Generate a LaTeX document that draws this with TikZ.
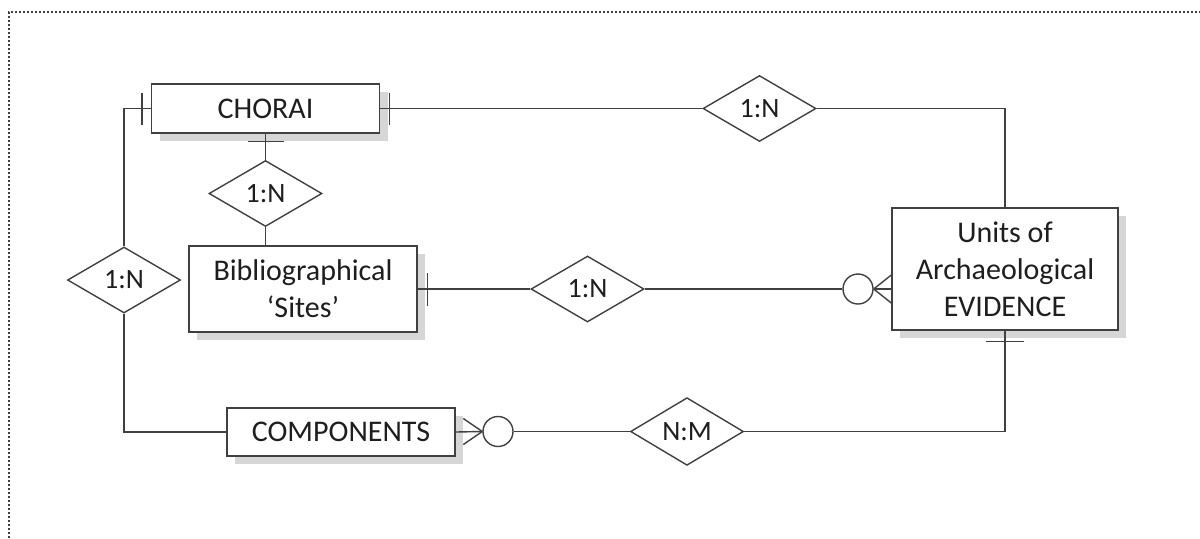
\documentclass[tikz,border=0pt]{standalone}
\usepackage{fontspec}
\setmainfont{Carlito}
\usetikzlibrary{shapes.geometric,shadows}
\definecolor{linegray}{HTML}{404040}
\definecolor{textgray}{HTML}{1E1E1E}
\definecolor{shadowgray}{HTML}{D6D6D6}
\begin{document}
\begin{tikzpicture}[x=0.5pt,y=-0.5pt,
  conn/.style={draw=linegray,line width=0.7pt},
  entity/.style={rectangle,draw=linegray,line width=0.7pt,fill=white,
    inner sep=0pt,align=center,text=textgray,
    font=\fontsize{15pt}{18.5pt}\selectfont,
    drop shadow={shadow xshift=4pt,shadow yshift=-4pt,fill=shadowgray,opacity=1}},
  rel/.style={diamond,draw=linegray,line width=0.7pt,fill=white,inner sep=0pt,
    minimum width=56.5pt,minimum height=33pt,text=textgray,
    font=\fontsize{14pt}{17pt}\selectfont},
  opt/.style={circle,draw=linegray,line width=0.7pt,fill=white,inner sep=0pt,
    minimum size=15pt},
  frame/.style={draw=black!75,line width=0.9pt,dash pattern=on 1pt off 1pt}]
\useasboundingbox (0,0) rectangle (1200,538);
\draw[frame] (9,538) -- (9,12) -- (1200,12);

% entities
\node[entity,minimum width=114pt,minimum height=24.5pt] (chorai) at (265.5,108.5) {CHORAI};
\node[entity,minimum width=114pt,minimum height=43pt] (bib) at (303,289) {Bibliographical\\‘Sites’};
\node[entity,minimum width=114pt,minimum height=24pt] (comp) at (341,432) {COMPONENTS};
\node[entity,minimum width=113pt,minimum height=61pt] (units) at (1005,269) {Units of\\Archaeological\\EVIDENCE};

% relationships
\node[rel] (rtop) at (759.5,108.5) {1:N};
\node[rel] (rmid) at (265.5,193.5) {1:N};
\node[rel] (rleft) at (124,280) {1:N};
\node[rel] (rbib) at (587.5,289) {1:N};
\node[rel] (rnm) at (687,431.5) {N:M};

% optional-many markers
\node[opt] (ocomp) at (498,431.5) {};
\node[opt] (ounits) at (858,289) {};

% CHORAI -- COMPONENTS
\draw[conn] (chorai.west) -| (rleft.north);
\draw[conn] (rleft.south) |- (comp.west);
\draw[conn] ([xshift=-4.5pt,yshift=8pt]chorai.west) -- ([xshift=-4.5pt,yshift=-8pt]chorai.west);

% CHORAI -- Units
\draw[conn] (chorai.east) -- (rtop.west);
\draw[conn] (rtop.east) -| (units.north);
\draw[conn] ([xshift=4.5pt,yshift=8pt]chorai.east) -- ([xshift=4.5pt,yshift=-8pt]chorai.east);

% CHORAI -- Bibliographical Sites
\draw[conn] (chorai.south) -- (rmid.north);
\draw[conn] (rmid.south) -- (rmid.south |- bib.north);
\draw[conn] ([xshift=-9pt,yshift=-4pt]chorai.south) -- ([xshift=9pt,yshift=-4pt]chorai.south);

% Bibliographical Sites -- Units
\draw[conn] (bib.east) -- (rbib.west);
\draw[conn] (rbib.east) -- (ounits.west);
\draw[conn] ([xshift=5pt,yshift=8pt]bib.east) -- ([xshift=5pt,yshift=-8.5pt]bib.east);
\coordinate (uf) at (ounits.east);
\draw[conn] (uf) -- (units.west |- uf);
\draw[conn] (uf) -- ([yshift=7pt]units.west |- uf);
\draw[conn] (uf) -- ([yshift=-7pt]units.west |- uf);

% COMPONENTS -- Units
\coordinate (cf) at (ocomp.west);
\draw[conn] (comp.east) -- (cf);
\draw[conn] (cf) -- ([xshift=-9.5pt,yshift=6.5pt]cf);
\draw[conn] (cf) -- ([xshift=-9.5pt,yshift=-6.5pt]cf);
\draw[conn] (ocomp.east) -- (rnm.west);
\draw[conn] (rnm.east) -| (units.south);
\draw[conn] ([xshift=-9.5pt,yshift=-5.5pt]units.south) -- ([xshift=9.5pt,yshift=-5.5pt]units.south);
\end{tikzpicture}
\end{document}
